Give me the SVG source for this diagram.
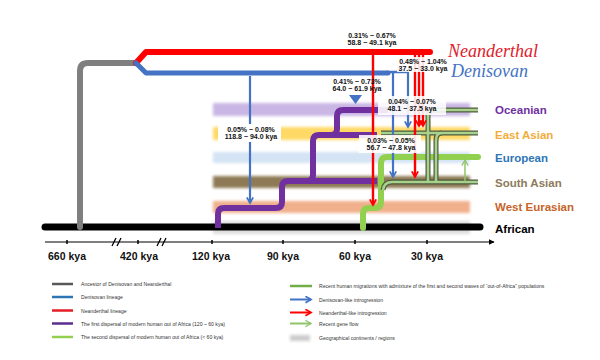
<svg xmlns="http://www.w3.org/2000/svg" width="600" height="360" viewBox="0 0 600 360">
<defs>
<filter id="blur" x="-10%" y="-60%" width="120%" height="220%"><feGaussianBlur stdDeviation="1.4"/></filter>
<marker id="mb" viewBox="0 0 10 10" refX="8" refY="5" markerWidth="8" markerHeight="8" markerUnits="userSpaceOnUse" orient="auto"><path d="M1,1 L8,5 L1,9" fill="none" stroke="#4472c4" stroke-width="2.2"/></marker>
<marker id="mr" viewBox="0 0 10 10" refX="8" refY="5" markerWidth="8" markerHeight="8" markerUnits="userSpaceOnUse" orient="auto"><path d="M1,1 L8,5 L1,9" fill="none" stroke="#ff0000" stroke-width="2.2"/></marker>
<marker id="mg" viewBox="0 0 10 10" refX="8" refY="5" markerWidth="8" markerHeight="8" markerUnits="userSpaceOnUse" orient="auto"><path d="M1,1 L8,5 L1,9" fill="none" stroke="#8fc46a" stroke-width="1.6"/></marker>
<marker id="mk" viewBox="0 0 10 10" refX="9" refY="5" markerWidth="6" markerHeight="6" markerUnits="userSpaceOnUse" orient="auto"><path d="M0,0 L10,5 L0,10 Z" fill="#000"/></marker>
</defs>
<style>
.band{filter:url(#blur)}
.ln{fill:none;stroke-linecap:round;stroke-linejoin:round}
.pu{fill:none;stroke:#7030a0;stroke-width:6;stroke-linejoin:round}
.ro{fill:none;stroke:#4f5b3c;stroke-width:5;stroke-linejoin:round}
.ri{fill:none;stroke:#a9d18e;stroke-width:2.6;stroke-linejoin:round}
.ab{fill:none;stroke:#4472c4;stroke-width:2.2}
.ar{fill:none;stroke:#ff0000;stroke-width:2.4}
.num{font-family:"Liberation Sans",Arial,sans-serif;font-size:7px;font-weight:bold;fill:#111;text-anchor:middle}
.row{font-family:"Liberation Sans",Arial,sans-serif;font-size:11.5px;font-weight:bold}
.sp{font-family:"Liberation Serif","DejaVu Serif",serif;font-style:italic;font-size:18px}
.ax{font-family:"Liberation Sans",Arial,sans-serif;font-size:10.5px;font-weight:bold;text-anchor:middle;fill:#111}
.lg{font-family:"Liberation Sans",Arial,sans-serif;font-size:5.1px;fill:#333}
.box{fill:#fff;opacity:.88}
</style>

<g id="regions">
<rect class="band" x="213" y="103" width="257" height="13" fill="#c9b6e4"/>
<rect class="band" x="213" y="127" width="257" height="13" fill="#ffd966"/>
<rect class="band" x="213" y="152" width="257" height="11" fill="#d4e4f4"/>
<rect class="band" x="213" y="176" width="257" height="12" fill="#8e7a56"/>
<rect class="band" x="213" y="201" width="257" height="12" fill="#f0b08c"/>
<rect class="band" x="213" y="221" width="257" height="13" fill="#dddddd"/>
</g>

<g id="african">
<path class="ln" d="M45,227 H480" stroke="#000" stroke-width="7"/>
</g>

<g id="ancestor">
<path class="ln" d="M80,227 V71 Q80,63 88,63 H136" stroke="#7f7f7f" stroke-width="6"/>
</g>
<g id="neanderthal">
<path class="ln" d="M136,63 L146,52 H430" stroke="#ff0000" stroke-width="6"/>
<text class="sp" x="448" y="57" fill="#e0202a">Neanderthal</text>
</g>
<g id="denisovan">
<path class="ln" d="M136,63 L146,73 H388" stroke="#4472c4" stroke-width="5"/>
<path d="M386,72 H409" stroke="#4472c4" stroke-width="2.5" fill="none"/>
<text class="sp" x="451" y="77" fill="#4472c4">Denisovan</text>
</g>

<g id="first-dispersal">
<path class="pu" d="M218,228 V214 Q218,208 224,208 H276 Q282,208 282,202 V187 Q282,181 288,181 H307 Q313,181 313,175 V141 Q313,135 319,135 H331 Q337,135 337,129 V116 Q337,110 343,110 H388"/>
<path class="pu" d="M288,181 H377"/>
<path class="pu" d="M319,135 H377"/>
</g>

<g id="second-dispersal">
<path class="ln" d="M363,228 V214 Q363,208 369,208 H375 Q381,208 381,202 V163 Q381,157 387,157 H478" stroke="#92d050" stroke-width="6"/>
</g>

<g id="recent-migrations">
<path class="ro" d="M383,190 Q384,182 392,182 H478"/>
<path class="ro" d="M381,133 H478"/>
<path class="ro" d="M428,182 V116 Q428,110 434,110 H478"/>
<path class="ro" d="M436,182 V140 Q436,133 442,133"/>
<path class="ri" d="M383,190 Q384,182 392,182 H478"/>
<path class="ri" d="M381,133 H478"/>
<path class="ri" d="M428,182 V116 Q428,110 434,110 H478"/>
<path class="ri" d="M436,182 V140 Q436,133 442,133"/>
</g>

<g id="connectors">
<path class="ab" d="M250,76 V203" marker-end="url(#mb)"/>
<path class="ar" d="M373,55 V205" marker-end="url(#mr)"/>
<path class="ab" d="M393,73 V177" marker-end="url(#mb)"/>
<path class="ab" d="M408,73 V127" marker-end="url(#mb)"/>
<path class="ar" d="M415,55 V177" marker-end="url(#mr)"/>
<path class="ar" d="M419,55 V126" marker-end="url(#mr)"/>
<path class="ar" d="M423,55 V126" marker-end="url(#mr)"/>
<polygon points="349,95 362,95 355.5,104" fill="#4472c4"/>
<path d="M465,182 V160" fill="none" stroke="#8fc46a" stroke-width="1.5" marker-end="url(#mg)"/>
</g>

<g id="rates">
<text class="num" x="372" y="37.5">0.31% ~ 0.67%</text>
<text class="num" x="372" y="45">58.8 ~ 49.1 kya</text>
<rect class="box" x="397" y="57" width="52" height="15"/>
<text class="num" x="423" y="64.3">0.48% ~ 1.04%</text>
<text class="num" x="423" y="71">37.5 ~ 33.0 kya</text>
<text class="num" x="357" y="84">0.41% ~ 0.73%</text>
<text class="num" x="357" y="91">64.0 ~ 61.9 kya</text>
<rect class="box" x="378" y="96" width="68" height="19"/>
<text class="num" x="412" y="104">0.04% ~ 0.07%</text>
<text class="num" x="412" y="111">48.1 ~ 37.5 kya</text>
<rect class="box" x="359" y="135" width="62" height="18"/>
<text class="num" x="391" y="143">0.03% ~ 0.05%</text>
<text class="num" x="391" y="150">56.7 ~ 47.8 kya</text>
<rect x="218" y="124" width="63" height="18" fill="#fff"/>
<text class="num" x="251" y="132">0.05% ~ 0.08%</text>
<text class="num" x="251" y="139">118.8 ~ 94.0 kya</text>
</g>

<g id="region-labels">
<text class="row" x="495" y="114" fill="#7030a0">Oceanian</text>
<text class="row" x="495" y="139" fill="#f0ad3c">East Asian</text>
<text class="row" x="495" y="162" fill="#2e75b6">European</text>
<text class="row" x="495" y="187" fill="#8c7b5b">South Asian</text>
<text class="row" x="495" y="211" fill="#c5652a">West Eurasian</text>
<text class="row" x="495" y="233" fill="#000">African</text>
</g>

<g id="axis">
<path d="M45,242 H494" stroke="#000" stroke-width="1.2" marker-end="url(#mk)"/>
<path d="M67,240 V244 M138,240 V244 M212,240 V244 M283,240 V244 M355,240 V244 M427,240 V244" stroke="#000" stroke-width="1.5"/>
<path d="M112,246 L116,238 M117,246 L121,238 M157,246 L161,238 M162,246 L166,238" stroke="#000" stroke-width="1.3"/>
<text class="ax" x="67" y="260">660 kya</text>
<text class="ax" x="139" y="260">420 kya</text>
<text class="ax" x="211" y="260">120 kya</text>
<text class="ax" x="283" y="260">90 kya</text>
<text class="ax" x="355" y="260">60 kya</text>
<text class="ax" x="427" y="260">30 kya</text>
</g>

<g id="legend">
<path d="M52,284 H73" stroke="#595959" stroke-width="2.5"/>
<text class="lg" x="81" y="286">Ancestor of Denisovan and Neanderthal</text>
<path d="M52,297 H73" stroke="#2e75b6" stroke-width="2.5"/>
<text class="lg" x="81" y="299">Denisovan lineage</text>
<path d="M52,310.5 H73" stroke="#e31e24" stroke-width="2.5"/>
<text class="lg" x="81" y="312.5">Neanderthal lineage</text>
<path d="M52,323.5 H73" stroke="#5c2d91" stroke-width="2.5"/>
<text class="lg" x="81" y="325.5">The first dispersal of modern human out of Africa (120 ~ 60 kya)</text>
<path d="M52,337 H73" stroke="#92d050" stroke-width="2.5"/>
<text class="lg" x="81" y="339">The second dispersal of modern human out of Africa (&lt; 60 kya)</text>

<path d="M290,286 H312" stroke="#70ad47" stroke-width="2.5"/>
<text class="lg" x="319" y="288">Recent human migrations with admixture of the first and second waves of “out-of-Africa” populations</text>
<path d="M290,299.5 H311" stroke="#4472c4" stroke-width="2" marker-end="url(#mb)"/>
<text class="lg" x="319" y="301.5">Denisovan-like introgression</text>
<path d="M290,312.5 H311" stroke="#ff0000" stroke-width="2" marker-end="url(#mr)"/>
<text class="lg" x="319" y="314.5">Neanderthal-like  introgression</text>
<path d="M290,323.5 H311" stroke="#8fc46a" stroke-width="2" marker-end="url(#mg)"/>
<text class="lg" x="319" y="325.5">Recent gene flow</text>
<rect class="band" x="290" y="335" width="20" height="6" fill="#cccccc"/>
<text class="lg" x="319" y="339.5">Geographical continents / regions</text>
</g>
</svg>
